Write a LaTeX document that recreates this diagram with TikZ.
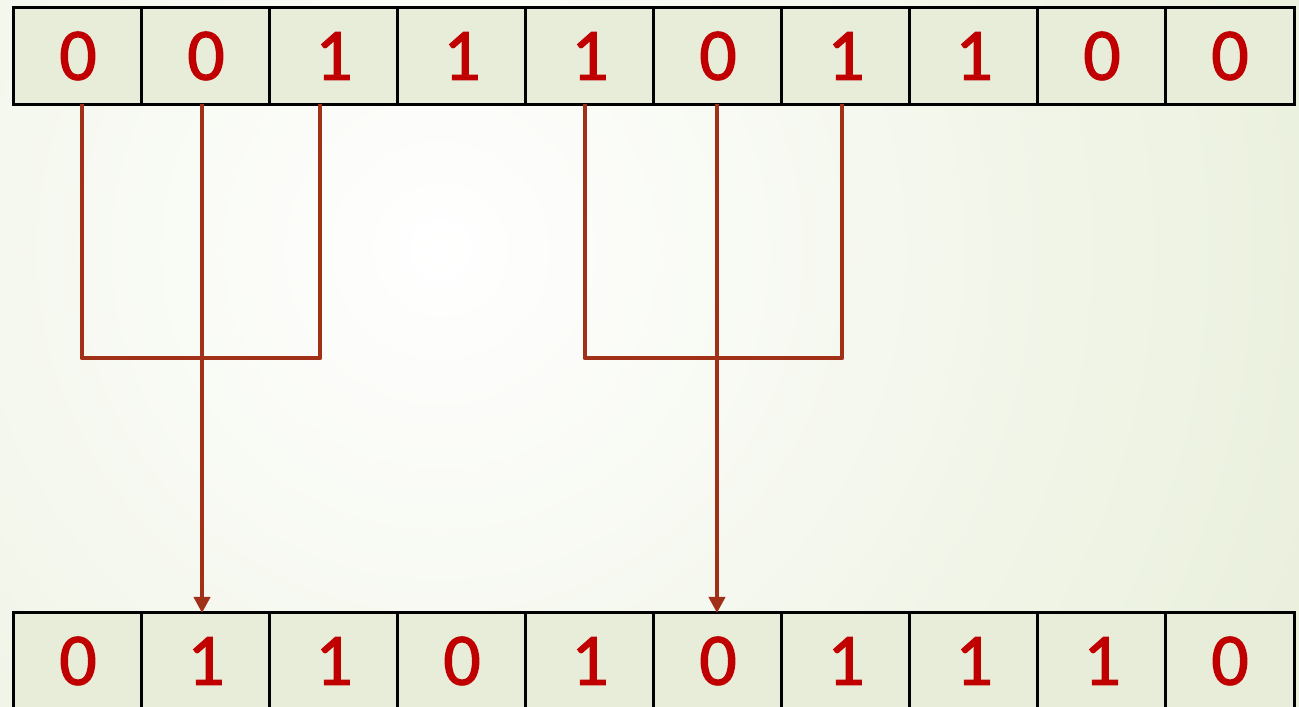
\documentclass[tikz,border=0pt]{standalone}
\usepackage{fontspec}
\setmainfont{Carlito}
\newfontfamily\bitfont[FakeBold=1.6]{Carlito}
\usepackage{tikz}
\usetikzlibrary{arrows.meta,calc}
\usepackage{xcolor}
\definecolor{bitred}{RGB}{192,0,0}
\definecolor{wirerust}{RGB}{160,48,24}
\definecolor{cellgreen}{RGB}{232,237,218}
\definecolor{paleback}{RGB}{214,226,188}

\begin{document}
\begin{tikzpicture}[x=0.01cm, y=-0.01cm,
    bit/.style={rectangle, draw=black, line width=0.85pt, fill=cellgreen,
                minimum width=1.28cm, minimum height=0.96cm, inner sep=0pt,
                outer sep=0pt, text=bitred, font=\bitfont\fontsize{21}{25}\selectfont},
    wire/.style={line width=1.4pt, wirerust, line join=round},
    arr/.style={wire, -{Triangle[length=4.6pt,width=4.6pt]}}
]
\useasboundingbox (0,0) rectangle (1299,707);
% background
\begin{scope}
  \clip (0,0) rectangle (1299,707);
  \shade[inner color=white, outer color=paleback] (440,250) circle (1800);
\end{scope}

% input word
\node[bit] (t1)  at (78,56)   {0};
\node[bit] (t2)  at (206,56)  {0};
\node[bit] (t3)  at (334,56)  {1};
\node[bit] (t4)  at (462,56)  {1};
\node[bit] (t5)  at (590,56)  {1};
\node[bit] (t6)  at (718,56)  {0};
\node[bit] (t7)  at (846,56)  {1};
\node[bit] (t8)  at (974,56)  {1};
\node[bit] (t9)  at (1102,56) {0};
\node[bit] (t10) at (1230,56) {0};

% output word
\node[bit] (b1)  at (78,661)   {0};
\node[bit] (b2)  at (206,661)  {1};
\node[bit] (b3)  at (334,661)  {1};
\node[bit] (b4)  at (462,661)  {0};
\node[bit] (b5)  at (590,661)  {1};
\node[bit] (b6)  at (718,661)  {0};
\node[bit] (b7)  at (846,661)  {1};
\node[bit] (b8)  at (974,661)  {1};
\node[bit] (b9)  at (1102,661) {1};
\node[bit] (b10) at (1230,661) {0};

\coordinate (j1) at (202,358);
\coordinate (j2) at (717,358);

% neighbourhoods
\draw[wire] ([xshift=0.04cm]t1.south) |- (j1);
\draw[wire] ([xshift=-0.14cm]t3.south) |- (j1);
\draw[arr] ([xshift=-0.04cm]t2.south) -- ([xshift=-0.04cm]b2.north);

\draw[wire] ([xshift=-0.05cm]t5.south) |- (j2);
\draw[wire] ([xshift=-0.04cm]t7.south) |- (j2);
\draw[arr] ([xshift=-0.01cm]t6.south) -- ([xshift=-0.01cm]b6.north);
\end{tikzpicture}
\end{document}
